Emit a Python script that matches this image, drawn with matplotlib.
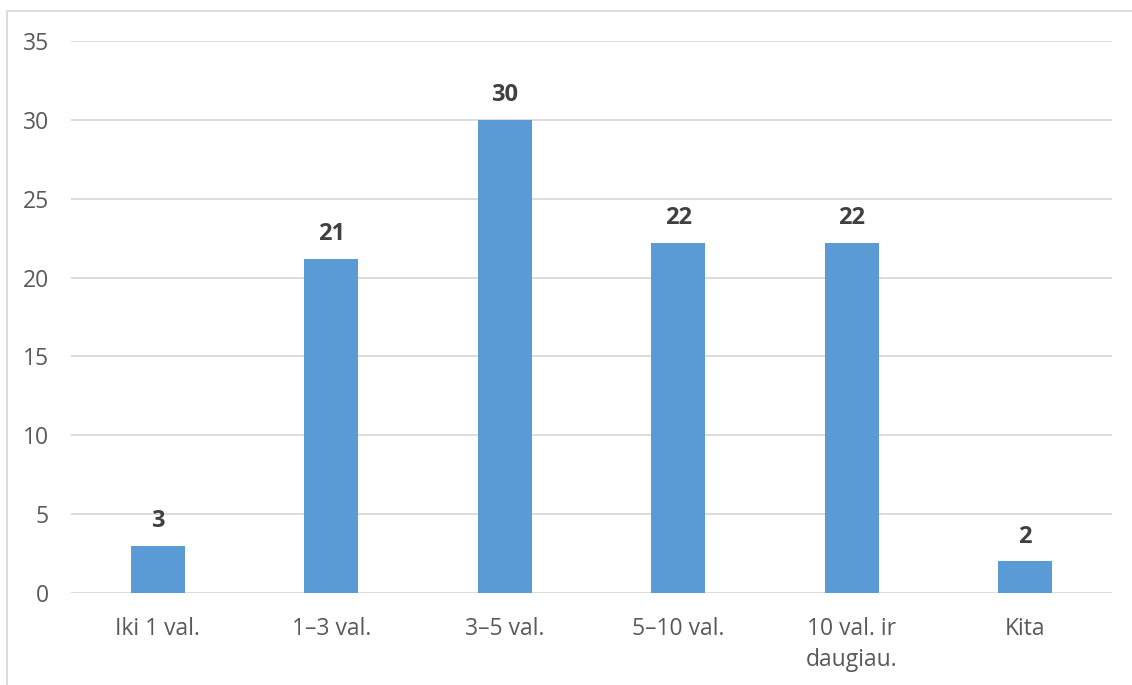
import matplotlib
matplotlib.use("Agg")
import matplotlib.pyplot as plt
from matplotlib.patches import Rectangle

categories = ["Iki 1 val.", "1–3 val.", "3–5 val.", "5–10 val.", "10 val. ir\ndaugiau.", "Kita"]
values = [3.0, 21.2, 30.0, 22.2, 22.2, 2.0]
yticks = [0, 5, 10, 15, 20, 25, 30, 35]

plt.rcParams['font.family'] = ['Open Sans', 'DejaVu Sans']

W, H = 1132, 685
fig = plt.figure(figsize=(W / 100, H / 100), dpi=100)
ax = fig.add_axes([71 / W, (H - 593) / H, (1112 - 71) / W, (593 - 41) / H])

x = list(range(len(categories)))
ax.bar(x, values, width=0.31, color="#5B9BD5", zorder=3)
for xi, v in zip(x, values):
    ax.text(xi, v + 0.8, f"{v:.0f}", ha="center", va="bottom", fontsize=17,
            fontweight="bold", color="#404040")

ax.set_xlim(-0.5, len(categories) - 0.5)
ax.set_ylim(0, 35)
ax.set_yticks(yticks)
ax.set_yticklabels([str(t) for t in yticks])
ax.set_xticks(x)
ax.set_xticklabels(categories, linespacing=1.42)
ax.tick_params(axis="both", length=0, labelsize=16.5, colors="#595959")
ax.tick_params(axis="y", pad=16)
ax.tick_params(axis="x", pad=17)
ax.grid(axis="y", color="#D9D9D9", linewidth=1.3, zorder=0)
for s in ax.spines.values():
    s.set_visible(False)

fig.patches.append(Rectangle((7 / W, -0.1), 1.2, 1 - 11 / H + 0.1, transform=fig.transFigure,
                             fill=False, edgecolor="#D9D9D9", linewidth=1.3))

fig.savefig("out.png", dpi=100)
